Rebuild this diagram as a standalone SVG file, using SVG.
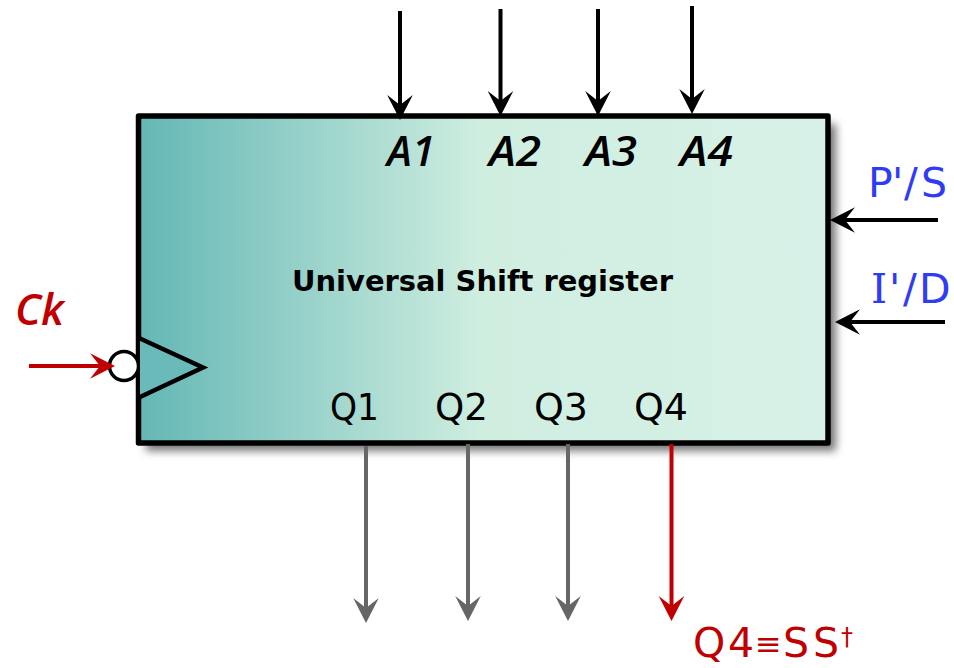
<svg xmlns="http://www.w3.org/2000/svg" width="954" height="668" viewBox="0 0 954 668">
<style>
.t{font-family:"Open Sans","DejaVu Sans",sans-serif;font-size:42px;font-weight:600}
.a{font-style:italic;fill:#000}
.q{font-family:"DejaVu Sans",sans-serif;font-size:37px;fill:#000}
.b{font-family:"DejaVu Sans",sans-serif;font-size:41px;fill:#2f3bf5}
.r{fill:#c00000}
.l{fill:none;stroke-width:4}
.k{stroke:#000}.g{stroke:#666}.e{stroke:#c00000}
</style>
<defs>
<linearGradient id="fill" x1="0" x2="1" y1="0" y2="0">
<stop offset="0" stop-color="#64b7b5"/><stop offset="0.5" stop-color="#cfeee0"/><stop offset="1" stop-color="#d8f1e8"/>
</linearGradient>
<filter id="sh" x="-5%" y="-5%" width="110%" height="112%"><feGaussianBlur stdDeviation="4"/></filter>
<path id="h" d="M0 0L-25 -12.800L-15 0L-25 12.800Z"/>
</defs>
<g id="register">
<rect x="146" y="124" width="690" height="327" fill="#777" filter="url(#sh)"/>
<rect x="138.500" y="116" width="689.500" height="327" fill="url(#fill)" stroke="#000" stroke-width="5.500" stroke-linejoin="round"/>
<text x="292" y="291" font-family="DejaVu Sans, sans-serif" font-weight="700" font-size="28" textLength="381" lengthAdjust="spacingAndGlyphs" fill="#000">Universal Shift register</text>
<text class="t a" x="387" y="166" textLength="48" lengthAdjust="spacingAndGlyphs">A1</text>
<text class="t a" x="489" y="166" textLength="52" lengthAdjust="spacingAndGlyphs">A2</text>
<text class="t a" x="585" y="166" textLength="52" lengthAdjust="spacingAndGlyphs">A3</text>
<text class="t a" x="680" y="166" textLength="53" lengthAdjust="spacingAndGlyphs">A4</text>
<text class="q" x="330" y="420" textLength="49" lengthAdjust="spacingAndGlyphs">Q1</text>
<text class="q" x="435" y="420" textLength="53" lengthAdjust="spacingAndGlyphs">Q2</text>
<text class="q" x="534" y="420" textLength="54" lengthAdjust="spacingAndGlyphs">Q3</text>
<text class="q" x="634" y="420" textLength="54" lengthAdjust="spacingAndGlyphs">Q4</text>
</g>
<g id="clock">
<circle cx="124" cy="366" r="14.500" fill="#fff" stroke="#000" stroke-width="3.500"/>
<path d="M140 338.500L203 367.500L140 397" fill="#69bab8" stroke="#000" stroke-width="4.500"/>
</g>
<g id="connectors">
<path class="l k" d="M400 11V110M500.500 9V105M598 9V105M692 6V103"/>
<use href="#h" transform="translate(400 120) rotate(90)"/>
<use href="#h" transform="translate(500.500 116) rotate(90)"/>
<use href="#h" transform="translate(598 116) rotate(90)"/>
<use href="#h" transform="translate(692 114) rotate(90)"/>
<path class="l k" d="M938 220H840M945 322H845"/>
<use href="#h" transform="translate(830 220) rotate(180)"/>
<use href="#h" transform="translate(835 322) rotate(180)"/>
<path class="l e" d="M29 366H105"/>
<use href="#h" fill="#c00000" transform="translate(115 366)"/>
<path class="l g" d="M366 446V612M468 444V610M568 444V610"/>
<use href="#h" fill="#666" transform="translate(366 623) rotate(90)"/>
<use href="#h" fill="#666" transform="translate(468 621) rotate(90)"/>
<use href="#h" fill="#666" transform="translate(568 621) rotate(90)"/>
<path class="l e" d="M671.500 444V610"/>
<use href="#h" fill="#c00000" transform="translate(671.500 621) rotate(90)"/>
</g>
<g id="label-ck"><text class="t r" x="15" y="325" font-style="italic" style="font-size:44px" textLength="49" lengthAdjust="spacingAndGlyphs">Ck</text></g>
<g id="label-ps"><text class="b" x="868 892 904 921" y="197">P'/S</text></g>
<g id="label-id"><text class="b" y="303"><tspan x="871" style="font-family:'DejaVu Serif',serif">I</tspan><tspan x="889">'</tspan><tspan x="903">/</tspan><tspan x="919">D</tspan></text></g>
<g id="label-q4"><text font-family="DejaVu Sans, sans-serif" font-size="41" fill="#c00000" y="657"><tspan x="693">Q</tspan><tspan x="728">4</tspan><tspan x="755" y="655" font-size="32">≡</tspan><tspan x="783" y="657">S</tspan><tspan x="813">S</tspan><tspan x="841" y="645" font-size="24">†</tspan></text></g>
</svg>
